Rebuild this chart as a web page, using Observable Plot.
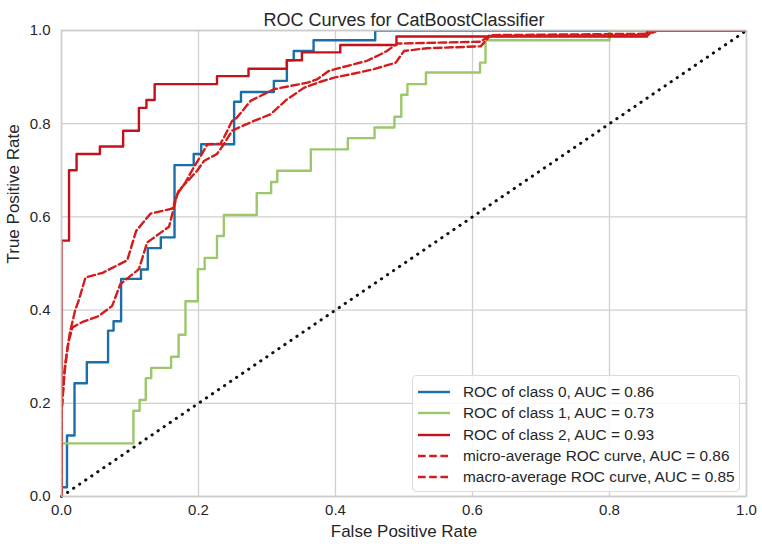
<!DOCTYPE html>
<html><head><meta charset="utf-8">
<script src="https://cdn.jsdelivr.net/npm/d3@7"></script>
<script src="https://cdn.jsdelivr.net/npm/@observablehq/plot@0.6"></script>
<style>
body{margin:0;background:#fff;font-family:"Liberation Sans",Arial,sans-serif;}
#wrap{position:relative;width:762px;height:549px;}
#legend{position:absolute;left:412px;top:375px;width:328px;height:117px;border:1px solid #dcdcdc;border-radius:4px;background:rgba(255,255,255,0.85);box-sizing:border-box;}
.row{position:absolute;left:5px;height:20px;display:flex;align-items:center;font-size:15.4px;color:#262626;white-space:nowrap}
.row svg{margin-right:12px;flex:none}
</style></head><body><div id="wrap"></div>
<script>
const title = "ROC Curves for CatBoostClassifier";
const xLabel = "False Positive Rate";
const yLabel = "True Positive Rate";
const ticks = [0.0, 0.2, 0.4, 0.6, 0.8, 1.0];

const seriesLabels = [
  "ROC of class 0, AUC = 0.86",
  "ROC of class 1, AUC = 0.73",
  "ROC of class 2, AUC = 0.93",
  "micro-average ROC curve, AUC = 0.86",
  "macro-average ROC curve, AUC = 0.85"
];
const seriesColors = ["#1b6fa8", "#9cc86b", "#c4121b", "#d41c1c", "#d41c1c"];
const seriesDash = [null, null, null, "7.6,3.6", "7.6,3.6"];

// class 0 (step points: fpr, tpr after each jump)
const class0Fpr = [0, 0, 0.008, 0.019, 0.037, 0.068, 0.076, 0.087, 0.116, 0.126, 0.145, 0.165, 0.193, 0.204, 0.252, 0.262, 0.31, 0.329, 0.339, 0.368, 0.458, 1.0];
const class0Tpr = [0, 0.02, 0.131, 0.243, 0.288, 0.356, 0.376, 0.467, 0.487, 0.533, 0.556, 0.711, 0.735, 0.756, 0.847, 0.868, 0.892, 0.936, 0.956, 0.979, 1.0, 1.0];

// class 1
const class1Fpr = [0, 0, 0.105, 0.114, 0.123, 0.131, 0.160, 0.171, 0.181, 0.199, 0.209, 0.227, 0.237, 0.285, 0.306, 0.315, 0.364, 0.418, 0.457, 0.486, 0.496, 0.505, 0.532, 0.611, 0.619, 0.80, 1.0];
const class1Tpr = [0, 0.114, 0.184, 0.207, 0.254, 0.276, 0.300, 0.347, 0.419, 0.488, 0.512, 0.559, 0.604, 0.651, 0.675, 0.699, 0.745, 0.769, 0.792, 0.815, 0.862, 0.885, 0.910, 0.931, 0.979, 1.0, 1.0];

// class 2
const class2Fpr = [0, 0, 0.011, 0.022, 0.056, 0.090, 0.113, 0.124, 0.136, 0.227, 0.273, 0.329, 0.351, 0.407, 0.489, 0.855, 1.0];
const class2Tpr = [0, 0.549, 0.700, 0.735, 0.751, 0.785, 0.834, 0.851, 0.885, 0.902, 0.918, 0.936, 0.953, 0.969, 0.987, 1.0, 1.0];

// micro-average
const microFpr = [0, 0, 0.004, 0.008, 0.012, 0.020, 0.025, 0.035, 0.060, 0.096, 0.109, 0.130, 0.162, 0.169, 0.181, 0.193, 0.205, 0.213, 0.232, 0.237, 0.249, 0.256, 0.264, 0.276, 0.291, 0.310, 0.359, 0.373, 0.390, 0.407, 0.446, 0.466, 0.475, 0.490, 0.612, 0.625, 0.855, 0.870, 1.0];
const microTpr = [0, 0.18, 0.26, 0.31, 0.35, 0.40, 0.42, 0.47, 0.48, 0.507, 0.570, 0.607, 0.618, 0.649, 0.674, 0.706, 0.735, 0.756, 0.757, 0.770, 0.806, 0.813, 0.827, 0.849, 0.860, 0.874, 0.888, 0.895, 0.913, 0.920, 0.935, 0.949, 0.956, 0.972, 0.976, 0.990, 0.993, 1.0, 1.0];

// macro-average
const macroFpr = [0, 0, 0.005, 0.010, 0.016, 0.030, 0.054, 0.074, 0.086, 0.113, 0.125, 0.157, 0.168, 0.171, 0.198, 0.208, 0.227, 0.237, 0.249, 0.261, 0.281, 0.305, 0.329, 0.354, 0.378, 0.398, 0.422, 0.456, 0.488, 0.500, 0.534, 0.612, 0.625, 0.855, 0.870, 1.0];
const macroTpr = [0, 0.18, 0.28, 0.33, 0.363, 0.374, 0.387, 0.409, 0.456, 0.488, 0.545, 0.579, 0.643, 0.656, 0.699, 0.720, 0.735, 0.756, 0.785, 0.793, 0.806, 0.820, 0.852, 0.877, 0.890, 0.899, 0.906, 0.917, 0.931, 0.956, 0.962, 0.966, 0.988, 0.990, 1.0, 1.0];

// chance line
const chanceFpr = [0, 1];
const chanceTpr = [0, 1];

const toRows = (fs, ts) => fs.map((f, i) => ({fpr: f, tpr: ts[i]}));
const curves = [
  toRows(class0Fpr, class0Tpr),
  toRows(class1Fpr, class1Tpr),
  toRows(class2Fpr, class2Tpr),
  toRows(microFpr, microTpr),
  toRows(macroFpr, macroTpr)
];
const fmt = d3.format(".1f");

const lineMarks = curves.map((rows, i) => Plot.line(rows, {
  x: "fpr", y: "tpr",
  curve: i < 3 ? "step-after" : "linear",
  stroke: seriesColors[i], strokeWidth: 2.4,
  strokeDasharray: seriesDash[i] || undefined,
  clip: "frame"
}));

const chart = Plot.plot({
  width: 762, height: 549,
  marginLeft: 61, marginRight: 16, marginTop: 30, marginBottom: 53,
  x: {domain: [0, 1]},
  y: {domain: [0, 1]},
  style: {fontFamily: "'Liberation Sans', Arial, sans-serif", fontSize: "15px", color: "#262626", background: "#fff"},
  marks: [
    Plot.gridX(ticks, {stroke: "#d0d0d0", strokeOpacity: 1, strokeWidth: 1.3}),
    Plot.gridY(ticks, {stroke: "#d0d0d0", strokeOpacity: 1, strokeWidth: 1.3}),
    Plot.axisX(ticks, {tickSize: 0, tickPadding: 8, tickFormat: fmt, label: null, fontSize: 15}),
    Plot.axisY(ticks, {tickSize: 0, tickPadding: 11, tickFormat: fmt, label: null, fontSize: 15}),
    Plot.line(toRows(chanceFpr, chanceTpr), {x: "fpr", y: "tpr", stroke: "#111", strokeWidth: 3, strokeLinecap: "round", strokeDasharray: "0.3,7"}),
    ...lineMarks,
    Plot.frame({stroke: "#cccccc", strokeWidth: 1.6, strokeOpacity: 0.85}),
    Plot.text([title], {frameAnchor: "top", dy: -17, fontSize: 18, fill: "#262626"}),
    Plot.text([xLabel], {frameAnchor: "bottom", dy: 40, fontSize: 17, fill: "#262626"}),
    Plot.text([yLabel], {frameAnchor: "left", dx: -48, rotate: -90, fontSize: 17, fill: "#262626"})
  ]
});
const wrap = document.getElementById("wrap");
wrap.appendChild(chart);

const legend = document.createElement("div");
legend.id = "legend";
seriesLabels.forEach((lab, i) => {
  const row = document.createElement("div");
  row.className = "row";
  row.style.top = (6 + i * 21.3) + "px";
  const dash = seriesDash[i] ? ` stroke-dasharray="${seriesDash[i]}"` : "";
  row.innerHTML = `<svg width="33" height="6"><line x1="0" y1="3" x2="32" y2="3" stroke="${seriesColors[i]}" stroke-width="2.4"${dash}/></svg><span>${lab}</span>`;
  legend.appendChild(row);
});
wrap.appendChild(legend);
</script></body></html>
